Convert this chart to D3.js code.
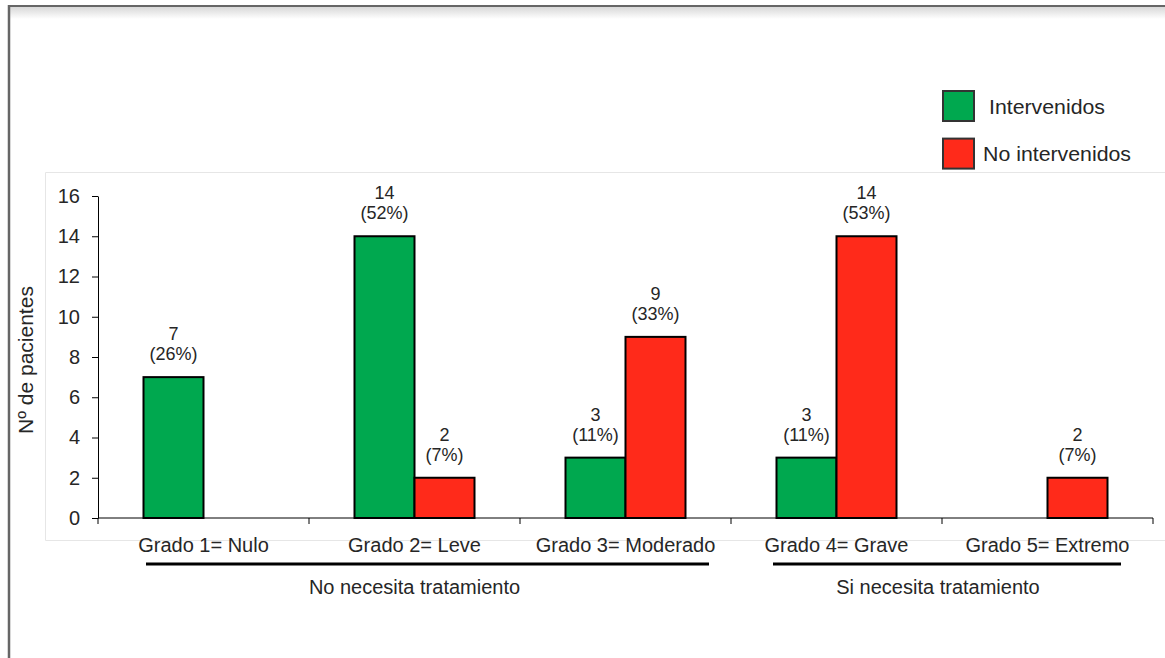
<!DOCTYPE html>
<html>
<head>
<meta charset="utf-8">
<script src="https://cdn.jsdelivr.net/npm/d3@7"></script>
<style>
  body { margin: 0; background: #fff; }
  svg { display: block; font-family: Arial, "Liberation Sans", sans-serif; }
</style>
</head>
<body>
<svg id="chart" width="1165" height="658"></svg>
<script>
// Data
const categories = ["Grado 1= Nulo", "Grado 2= Leve", "Grado 3= Moderado", "Grado 4= Grave", "Grado 5= Extremo"];
const seriesNames = ["Intervenidos", "No intervenidos"];
const intervenidos = [7, 14, 3, 3, 0];
const noIntervenidos = [0, 2, 9, 14, 2];
const pctIntervenidos = ["26%", "52%", "11%", "11%", ""];
const pctNoIntervenidos = ["", "7%", "33%", "53%", "7%"];
const groups = [
  { label: "No necesita tratamiento", from: 0, to: 2 },
  { label: "Si necesita tratamiento", from: 3, to: 4 }
];
const yTicks = [0, 2, 4, 6, 8, 10, 12, 14, 16];

const colors = ["#00a84f", "#ff2a1a"];
const textColor = "#262626";

(function() {
  const svg = d3.select("#chart");

  // outer frame with soft shadow along the top
  const defs = svg.append("defs");
  const grad = defs.append("linearGradient").attr("id", "topShade").attr("x1", 0).attr("y1", 0).attr("x2", 0).attr("y2", 1);
  grad.append("stop").attr("offset", 0).attr("stop-color", "#d8d8d8");
  grad.append("stop").attr("offset", 1).attr("stop-color", "#ffffff");
  svg.append("rect").attr("x", 9).attr("y", 7).attr("width", 1156).attr("height", 12).attr("fill", "url(#topShade)");
  svg.append("line").attr("x1", 8).attr("x2", 1165).attr("y1", 6).attr("y2", 6).attr("stroke", "#666").attr("stroke-width", 2);
  svg.append("line").attr("x1", 9).attr("x2", 9).attr("y1", 5).attr("y2", 658).attr("stroke", "#666").attr("stroke-width", 2.5);

  // plot area border
  svg.append("path").attr("d", "M1165,172.5 H45.5 V540.5 H1165").attr("fill", "none").attr("stroke", "#e6e6e6").attr("stroke-width", 1);

  const margin = { left: 98, right: 1153, top: 196, bottom: 518 };

  const x = d3.scaleBand().domain(categories).range([margin.left, margin.right]).padding(0);
  const y = d3.scaleLinear().domain([0, 16]).range([margin.bottom, margin.top]);
  const barW = 60;

  // y axis
  const yAxis = svg.append("g").attr("transform", `translate(${margin.left},0)`)
    .call(d3.axisLeft(y).tickValues(yTicks).tickSize(6).tickPadding(12).tickSizeOuter(0));
  yAxis.select(".domain").attr("stroke", "#000").attr("stroke-width", 1);
  yAxis.selectAll(".tick line").attr("stroke", "#000");
  yAxis.selectAll(".tick text").attr("font-size", 20).attr("fill", textColor).attr("font-family", "Arial, 'Liberation Sans', sans-serif");

  // x axis with category ticks between groups
  const xAxisG = svg.append("g").attr("transform", `translate(0,${margin.bottom})`);
  xAxisG.append("line").attr("x1", margin.left).attr("x2", margin.right).attr("stroke", "#000").attr("stroke-width", 1);
  const boundaries = categories.map(c => x(c)).concat([x(categories[categories.length - 1]) + x.bandwidth()]);
  xAxisG.selectAll(".bt").data(boundaries).enter().append("line")
    .attr("x1", d => d).attr("x2", d => d).attr("y1", 0).attr("y2", 6).attr("stroke", "#000");
  xAxisG.selectAll(".cat").data(categories).enter().append("text")
    .attr("x", d => x(d) + x.bandwidth() / 2).attr("y", 34)
    .attr("text-anchor", "middle").attr("font-size", 20).attr("fill", textColor)
    .text(d => d);

  // y axis title
  svg.append("text").attr("transform", "translate(33,360) rotate(-90)")
    .attr("text-anchor", "middle").attr("font-size", 21).attr("fill", textColor)
    .text("Nº de pacientes");

  // bars
  const series = [intervenidos, noIntervenidos];
  const pcts = [pctIntervenidos, pctNoIntervenidos];
  series.forEach((vals, s) => {
    const g = svg.append("g").attr("class", "series-" + s);
    const data = categories.map((c, i) => ({ c: c, v: vals[i], p: pcts[s][i] })).filter(d => d.v > 0);
    g.selectAll("rect").data(data).enter().append("rect")
      .attr("x", d => x(d.c) + x.bandwidth() / 2 + (s === 0 ? -barW : 0))
      .attr("y", d => y(d.v))
      .attr("width", barW)
      .attr("height", d => y(0) - y(d.v))
      .attr("fill", colors[s])
      .attr("stroke", "#000").attr("stroke-width", 2);

    const lbl = g.selectAll("text").data(data).enter().append("text")
      .attr("text-anchor", "middle").attr("font-size", 18).attr("fill", textColor)
      .attr("transform", d => `translate(${x(d.c) + x.bandwidth() / 2 + (s === 0 ? -barW / 2 : barW / 2)},${y(d.v) - 37})`);
    lbl.append("tspan").attr("x", 0).attr("y", 0).text(d => d.v);
    lbl.append("tspan").attr("x", 0).attr("y", 20).text(d => `(${d.p})`);
  });

  // group brackets
  const bracketPad = [[57.5, 83.5], [63.5, 73.5]];
  groups.forEach((gr, i) => {
    const c1 = x(categories[gr.from]) + x.bandwidth() / 2;
    const c2 = x(categories[gr.to]) + x.bandwidth() / 2;
    svg.append("line").attr("x1", c1 - bracketPad[i][0]).attr("x2", c2 + bracketPad[i][1]).attr("y1", 564).attr("y2", 564)
      .attr("stroke", "#000").attr("stroke-width", 3);
    svg.append("text").attr("x", (c1 + c2) / 2 + (i === 0 ? 0 : -4)).attr("y", 594)
      .attr("text-anchor", "middle").attr("font-size", 20).attr("fill", textColor)
      .text(gr.label);
  });

  // legend
  const legend = svg.append("g").attr("transform", "translate(943,91)");
  const items = legend.selectAll("g").data(seriesNames).enter().append("g")
    .attr("transform", (d, i) => `translate(0,${i * 47.6})`);
  items.append("rect").attr("width", 31).attr("height", 30)
    .attr("fill", (d, i) => colors[i]).attr("stroke", "#333").attr("stroke-width", 2);
  items.append("text").attr("x", (d, i) => i === 0 ? 46 : 40).attr("y", 22.5)
    .attr("font-size", 21).attr("fill", textColor)
    .attr("textLength", (d, i) => i === 0 ? 116 : 148).attr("lengthAdjust", "spacingAndGlyphs")
    .text(d => d);
})();
</script>
</body>
</html>
